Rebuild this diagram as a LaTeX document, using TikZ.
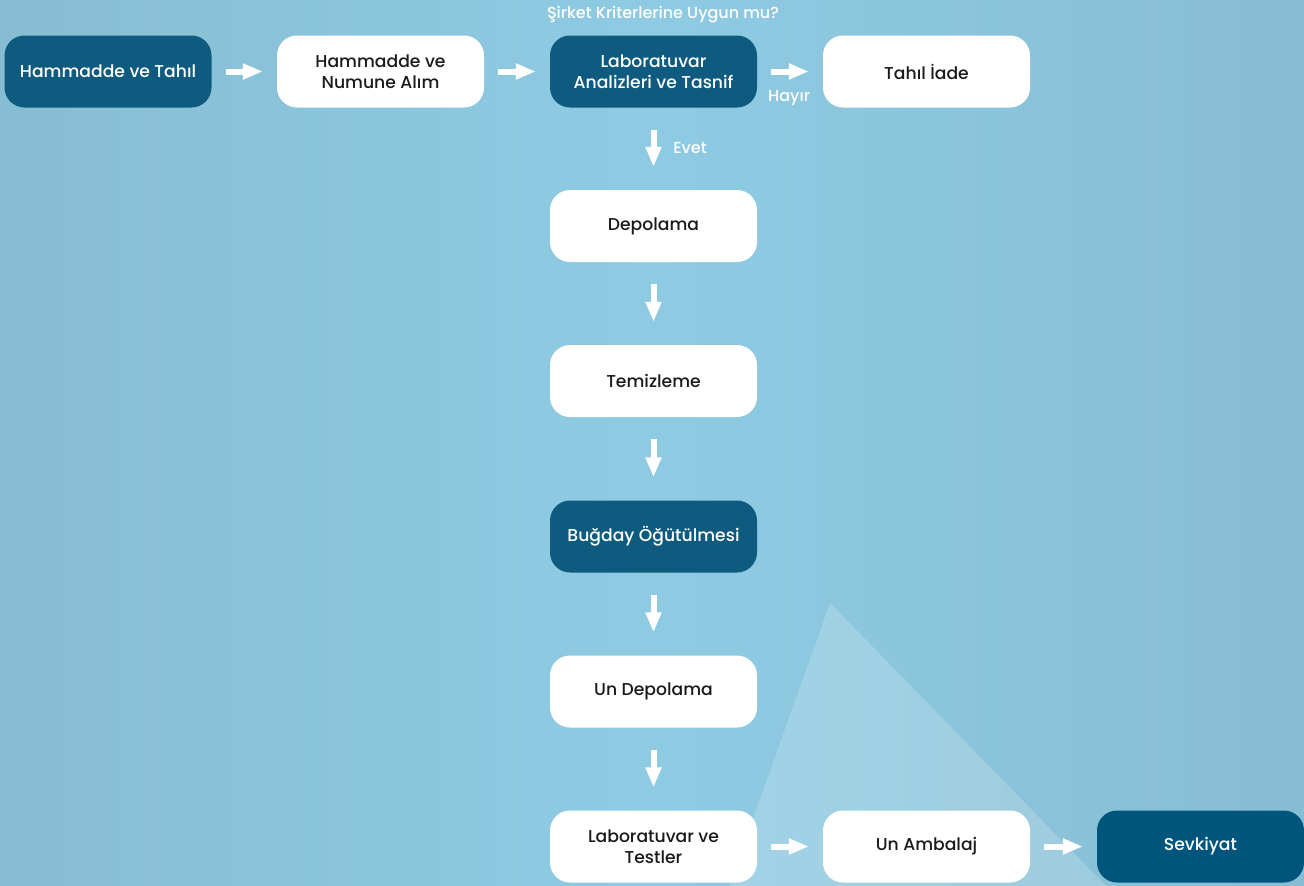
\documentclass[tikz,border=0pt]{standalone}
\usepackage{fontspec}
\IfFontExistsTF{Poppins Medium}{\setmainfont{Poppins Medium}}{\setmainfont{Poppins}}
\usetikzlibrary{arrows.meta}
\definecolor{bgmid}{HTML}{8ECBE3}
\definecolor{bgside}{HTML}{87BDD2}
\definecolor{darkbox}{HTML}{0F5B7F}
\definecolor{shipbox}{HTML}{00557D}
\definecolor{txtdark}{HTML}{1A1A1A}
\tikzset{
  box/.style={rectangle, rounded corners=20pt, minimum width=207pt, minimum height=72pt,
    inner sep=0pt, align=center, font=\fontsize{17.2}{21}\selectfont},
  lightbox/.style={box, fill=white, text=txtdark},
  darkbx/.style={box, fill=darkbox, text=white},
  flow/.style={draw=white, line width=6pt, -{Triangle[length=20pt,width=15pt]}},
  lbl/.style={text=white, inner sep=0pt, font=\fontsize{16}{18}\selectfont}
}
\begin{document}
\begin{tikzpicture}[x=1pt,y=-1pt]
\useasboundingbox (0,0) rectangle (1304,886);
\shade[left color=bgside, right color=bgside, middle color=bgmid] (0,0) rectangle (1304,886);
\fill[white, opacity=0.18] (830,603) -- (729,886) -- (1106,886) -- cycle;

\node[darkbx]  (raw)  at (108,71.5)  {Hammadde ve Tahıl};
\node[lightbox] (rec) at (380.5,71.5) {Hammadde ve\\Numune Alım};
\node[darkbx]  (lab)  at (653.5,71.5) {Laboratuvar\\Analizleri ve Tasnif};
\node[lightbox] (ret) at (926.5,71.5) {Tahıl İade};
\node[lightbox] (dep) at (653.5,226)  {Depolama};
\node[lightbox] (tem) at (653.5,381)  {Temizleme};
\node[darkbx]  (mil)  at (653.5,536.5) {Buğday Öğütülmesi};
\node[lightbox] (und) at (653.5,691.5) {Un Depolama};
\node[lightbox] (tst) at (653.5,846.5) {Laboratuvar ve\\Testler};
\node[lightbox] (pak) at (926.5,846.5) {Un Ambalaj};
\node[box, fill=shipbox, text=white] (shp) at (1200.5,846.5) {Sevkiyat};

\draw[flow, shorten <=14pt, shorten >=14pt] (raw) -- (rec);
\draw[flow, shorten <=14pt, shorten >=14pt] (rec) -- (lab);
\draw[flow, shorten <=14pt, shorten >=14pt] (lab) -- (ret);
\draw[flow, shorten <=22pt, shorten >=23pt] (lab) -- (dep);
\draw[flow, shorten <=22pt, shorten >=23pt] (dep) -- (tem);
\draw[flow, shorten <=22pt, shorten >=23pt] (tem) -- (mil);
\draw[flow, shorten <=22pt, shorten >=23pt] (mil) -- (und);
\draw[flow, shorten <=22pt, shorten >=23pt] (und) -- (tst);
\draw[flow, shorten <=14pt, shorten >=14pt] (tst) -- (pak);
\draw[flow, shorten <=14pt, shorten >=14pt] (pak) -- (shp);

\node[lbl] (q)  at (663,15)  {Şirket Kriterlerine Uygun mu?};
\node[lbl] (no) at (789,98)  {Hayır};
\node[lbl] (ye) at (690,148) {Evet};
\end{tikzpicture}
\end{document}
